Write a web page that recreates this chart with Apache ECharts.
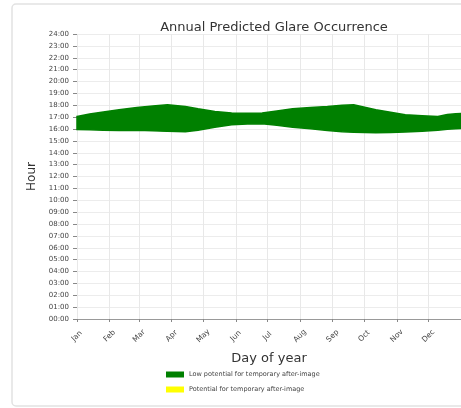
<!DOCTYPE html>
<html>
<head>
<meta charset="utf-8">
<script src="https://cdn.jsdelivr.net/npm/echarts@6/dist/echarts.min.js"></script>
<style>
  html, body { margin: 0; padding: 0; background: #fff; }
  #chart { width: 461px; height: 408px; }
</style>
</head>
<body>
<div id="chart"></div>
<script>
// values
var dayOfYear = [0, 12, 25, 40, 57, 72, 86, 103, 115, 131, 147, 162, 176, 190, 205, 222, 238, 252, 263, 284, 298, 312, 328, 343, 352, 360, 365];
var lowHour   = [15.95, 15.93, 15.9, 15.88, 15.9, 15.86, 15.8, 15.76, 15.9, 16.15, 16.36, 16.42, 16.45, 16.32, 16.15, 16.02, 15.88, 15.76, 15.72, 15.68, 15.7, 15.74, 15.82, 15.9, 15.97, 16.03, 16.05];
var highHour  = [17.06, 17.27, 17.43, 17.62, 17.81, 17.94, 18.04, 17.9, 17.7, 17.48, 17.34, 17.32, 17.34, 17.52, 17.7, 17.82, 17.9, 18.0, 18.04, 17.62, 17.42, 17.2, 17.12, 17.06, 17.22, 17.28, 17.3];
var monthStarts = [0, 31, 59, 90, 120, 151, 181, 212, 243, 273, 304, 334];
var monthLabels = ["Jan", "Feb", "Mar", "Apr", "May", "Jun", "Jul", "Aug", "Sep", "Oct", "Nov", "Dec"];

var bandData = [];
dayOfYear.forEach(function (d, i) {
  bandData.push([d, lowHour[i], highHour[i]]);
});

var myChart = echarts.init(document.getElementById("chart"));
var option = {
  animation: false,
  title: {
    text: "Annual Predicted Glare Occurrence",
    left: 269,
    top: 16,
    textAlign: "center",
    textStyle: { fontSize: 13, fontWeight: "normal", color: "#333", fontFamily: "DejaVu Sans" },
  },
  graphic: [
    {
      type: "rect",
      shape: { x: 12, y: 4, width: 460, height: 402, r: 4 },
      style: { fill: "none", stroke: "#e2e2e2", lineWidth: 1.5 },
      silent: true,
    },
  ],
  legend: {
    orient: "vertical",
    left: 161,
    top: 366,
    itemWidth: 18,
    itemHeight: 6,
    itemGap: 8,
    icon: "rect",
    textStyle: { fontSize: 6.5, color: "#444", fontFamily: "DejaVu Sans" },
    data: ["Low potential for temporary after-image", "Potential for temporary after-image"],
  },
  grid: { left: 77, right: 0, top: 34, bottom: 89, containLabel: false },
  xAxis: {
    type: "value",
    min: 0,
    max: 365,
    name: "Day of year",
    nameLocation: "middle",
    nameGap: 33,
    nameTextStyle: { fontSize: 13, color: "#333", fontFamily: "DejaVu Sans" },
    axisLine: { show: true, lineStyle: { color: "#999", width: 1 } },
    axisTick: { show: true, length: 3, customValues: monthStarts, lineStyle: { color: "#888" } },
    axisLabel: {
      customValues: monthStarts,
      rotate: 45,
      align: "center",
      verticalAlign: "middle",
      margin: 17,
      fontSize: 7.5,
      color: "#444",
      fontFamily: "DejaVu Sans",
      formatter: function (v) {
        var i = monthStarts.indexOf(v);
        return i >= 0 ? monthLabels[i] : "";
      },
    },
    splitLine: { show: true, lineStyle: { color: "#e8e8e8", width: 1 } },
  },
  yAxis: {
    type: "value",
    min: 0,
    max: 24,
    interval: 1,
    name: "Hour",
    nameLocation: "middle",
    nameGap: 37,
    nameTextStyle: { fontSize: 12, color: "#333", fontFamily: "DejaVu Sans" },
    axisLine: { show: false },
    axisTick: { show: true, length: 4, lineStyle: { color: "#888" } },
    axisLabel: {
      fontSize: 7,
      color: "#444",
      margin: 8,
      fontFamily: "DejaVu Sans",
      formatter: function (v) {
        return (v < 10 ? "0" : "") + v + ":00";
      },
    },
    splitLine: { show: true, lineStyle: { color: "#ececec", width: 1 } },
  },
  series: [
    {
      name: "Low potential for temporary after-image",
      type: "custom",
      color: "#008000",
      data: bandData,
      encode: { x: 0, y: [1, 2] },
      renderItem: function (params, api) {
        if (params.dataIndex !== 0) return;
        var pts = [];
        for (var i = 0; i < dayOfYear.length; i++) pts.push(api.coord([dayOfYear[i], highHour[i]]));
        for (var j = dayOfYear.length - 1; j >= 0; j--) pts.push(api.coord([dayOfYear[j], lowHour[j]]));
        return {
          type: "polygon",
          shape: { points: pts },
          style: { fill: "#008000", stroke: "#008000", lineWidth: 1.5 },
        };
      },
    },
    {
      name: "Potential for temporary after-image",
      type: "line",
      data: [],
      color: "#ffff00",
    },
  ],
};
myChart.setOption(option, true);
window.onresize = myChart.resize;
</script>
</body>
</html>
